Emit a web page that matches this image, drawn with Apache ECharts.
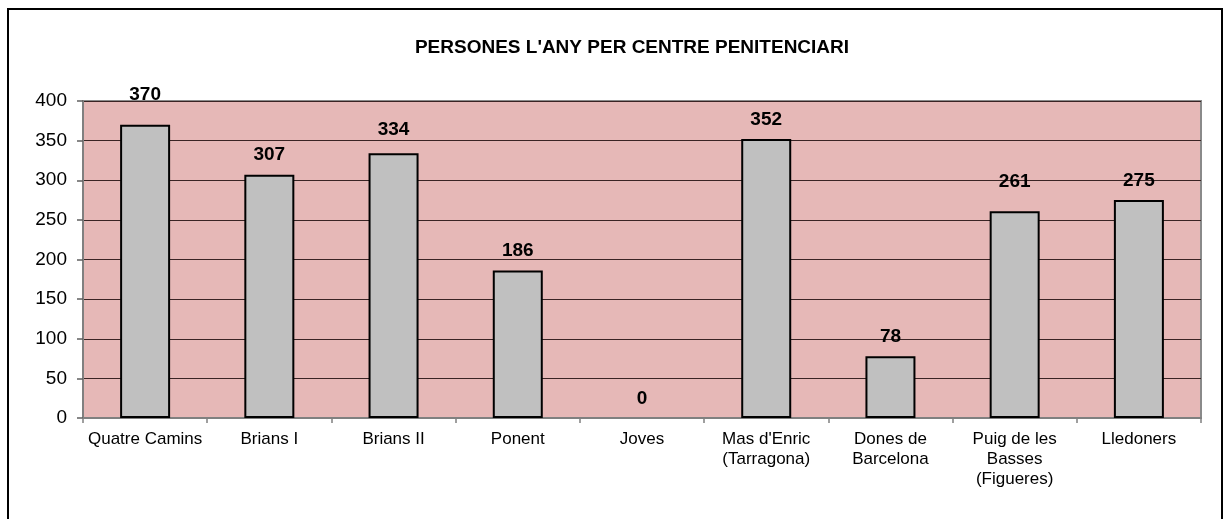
<!DOCTYPE html>
<html>
<head>
<meta charset="utf-8">
<script src="https://cdn.jsdelivr.net/npm/echarts@6/dist/echarts.min.js"></script>
<style>
  html, body { margin: 0; padding: 0; background: #fff; }
  #chart { width: 1224px; height: 519px; }
</style>
</head>
<body>
<div id="chart"></div>
<script>
  const centres = ['Quatre Camins', 'Brians I', 'Brians II', 'Ponent', 'Joves',
    "Mas d'Enric\n(Tarragona)", 'Dones de\nBarcelona', 'Puig de les\nBasses\n(Figueres)', 'Lledoners'];
  const persones = [370, 307, 334, 186, 0, 352, 78, 261, 275];
  const yTicks = [0, 400, 50]; // min, max, interval

  // a couple of labels sit higher in the original (Excel placement)
  const labelLift = { 0: 11, 2: 4, 7: 10 };

  const chart = echarts.init(document.getElementById('chart'));
  chart.setOption({
    textStyle: { fontFamily: 'Liberation Sans, Arial, sans-serif' },
    title: {
      text: "PERSONES L'ANY PER CENTRE PENITENCIARI",
      left: 627,
      textAlign: 'center',
      top: 33,
      textStyle: { fontSize: 19, fontWeight: 'bold', color: '#000' }
    },
    graphic: [{
      type: 'rect',
      shape: { x: 8, y: 9, width: 1214, height: 600 },
      style: { fill: 'none', stroke: '#000', lineWidth: 2 },
      silent: true
    }],
    grid: {
      left: 83, right: 23, top: 101, bottom: 101,
      show: true,
      backgroundColor: '#E6B8B7',
      borderColor: '#8a8a8a',
      borderWidth: 2
    },
    xAxis: {
      type: 'category',
      data: centres,
      axisLine: { lineStyle: { color: '#808080', width: 2 } },
      axisTick: { show: true, length: 5, lineStyle: { color: '#808080', width: 1.5 } },
      axisLabel: { interval: 0, color: '#000', fontSize: 17, lineHeight: 20, margin: 11 },
      splitLine: { show: false }
    },
    yAxis: {
      type: 'value',
      min: yTicks[0],
      max: yTicks[1],
      interval: yTicks[2],
      axisLine: { show: true, lineStyle: { color: '#808080', width: 2 } },
      axisTick: { show: true, length: 6, lineStyle: { color: '#606060', width: 1.5 } },
      axisLabel: { color: '#000', fontSize: 19, margin: 16 },
      splitLine: { lineStyle: { color: '#3a2424', width: 1.2 } }
    },
    series: [{
      type: 'bar',
      data: persones.map((v, i) => {
        const item = { value: v };
        if (labelLift[i]) item.label = { distance: 10 + labelLift[i] };
        if (v === 0) item.itemStyle = { borderWidth: 0 };
        return item;
      }),
      barWidth: 50,
      itemStyle: { color: '#C0C0C0', borderColor: '#000', borderWidth: 2 },
      label: {
        show: true,
        position: 'top',
        distance: 10,
        color: '#000',
        fontSize: 19,
        fontWeight: 'bold'
      }
    }]
  });
</script>
</body>
</html>
